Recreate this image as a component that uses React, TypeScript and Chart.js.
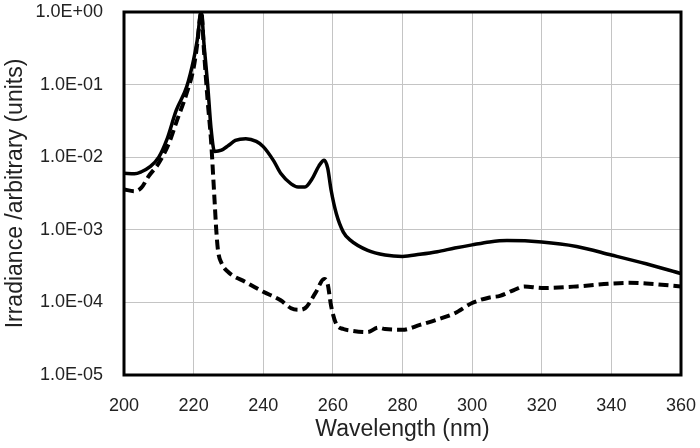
import React, { useEffect, useRef } from "react";
import { Chart, registerables } from "chart.js";

Chart.register(...registerables);

const wavelengthsSolid = [200, 203, 205, 207.5, 210, 212.3, 215, 218, 220, 221, 222.2, 223, 224, 225, 226, 228, 230, 232, 235, 238, 240, 243, 245, 248, 250, 252, 254, 256, 257.5, 258.5, 259.5, 261, 263, 265, 270, 275, 280, 285, 290, 295, 300, 305, 310, 320, 330, 340, 350, 360];
const irradianceSolid = [6.0e-3, 5.9e-3, 6.3e-3, 7.4e-3, 1.0e-2, 1.74e-2, 4.4e-2, 9.3e-2, 0.22, 0.40, 1.0, 0.35, 0.105, 0.025, 1.2e-2, 1.25e-2, 1.45e-2, 1.7e-2, 1.8e-2, 1.65e-2, 1.4e-2, 8.9e-3, 6.0e-3, 4.3e-3, 3.9e-3, 3.9e-3, 5.0e-3, 7.6e-3, 9.1e-3, 7.1e-3, 3.5e-3, 1.66e-3, 9.3e-4, 7.2e-4, 5.2e-4, 4.5e-4, 4.3e-4, 4.6e-4, 5.0e-4, 5.6e-4, 6.2e-4, 6.8e-4, 7.1e-4, 6.8e-4, 5.9e-4, 4.5e-4, 3.4e-4, 2.5e-4];

const wavelengthsDashed = [200, 203, 205, 207, 210, 213, 215, 218, 220, 221, 222.2, 223, 224, 225, 226, 226.5, 227, 228, 230, 235, 240, 245, 248, 250, 252, 255, 257.5, 258.5, 259.5, 261, 263, 265, 270, 273, 275, 280, 285, 290, 295, 300, 305, 308, 312, 315, 320, 330, 340, 345, 350, 360];
const irradianceDashed = [3.6e-3, 3.4e-3, 3.8e-3, 5.4e-3, 8.3e-3, 1.6e-2, 3.0e-2, 7.6e-2, 0.17, 0.35, 1.0, 0.28, 6.2e-2, 1.7e-2, 2.6e-3, 1.0e-3, 5.2e-4, 3.5e-4, 2.6e-4, 1.9e-4, 1.4e-4, 1.07e-4, 8.3e-5, 7.9e-5, 8.3e-5, 1.35e-4, 2.1e-4, 1.8e-4, 8.9e-5, 5.0e-5, 4.3e-5, 4.1e-5, 3.9e-5, 4.5e-5, 4.3e-5, 4.2e-5, 4.9e-5, 5.8e-5, 7.1e-5, 9.8e-5, 1.17e-4, 1.23e-4, 1.48e-4, 1.66e-4, 1.58e-4, 1.66e-4, 1.82e-4, 1.86e-4, 1.82e-4, 1.66e-4];

const yTickValues = [1e-5, 1e-4, 1e-3, 1e-2, 1e-1, 1];
const xTickValues = [200, 220, 240, 260, 280, 300, 320, 340, 360];

const xTitle = "Wavelength (nm)";
const yTitle = "Irradiance /arbitrary (units)";

const FONT = "'Liberation Sans', Arial, Helvetica, sans-serif";
const TEXT = "#222222";

function fmtExp(v: number): string {
  const e = Math.round(Math.log10(v));
  return "1.0E" + (e < 0 ? "-" : "+") + String(Math.abs(e)).padStart(2, "0");
}

const boxPlugin = {
  id: "box",
  afterDraw(chart: any) {
    const { ctx, chartArea } = chart;
    ctx.save();
    ctx.strokeStyle = "#000";
    ctx.lineWidth = 3;
    ctx.strokeRect(chartArea.left, chartArea.top, chartArea.right - chartArea.left, chartArea.bottom - chartArea.top);
    ctx.restore();
  },
};

export default function App() {
  const ref = useRef<HTMLCanvasElement | null>(null);
  useEffect(() => {
    document.body.style.margin = "0";
    const canvas = ref.current;
    if (!canvas) return;
    const chart = new Chart(canvas, {
      type: "line",
      data: {
        datasets: [
          {
            label: "solid",
            data: wavelengthsSolid.map((x, i) => ({ x, y: irradianceSolid[i] })),
            borderColor: "#000",
            borderWidth: 3.5,
            pointRadius: 0,
            cubicInterpolationMode: "monotone",
            fill: false,
          },
          {
            label: "dashed",
            data: wavelengthsDashed.map((x, i) => ({ x, y: irradianceDashed[i] })),
            borderColor: "#000",
            borderWidth: 4,
            borderDash: [10, 5],
            pointRadius: 0,
            cubicInterpolationMode: "monotone",
            fill: false,
          },
        ],
      },
      options: {
        animation: false,
        responsive: false,
        maintainAspectRatio: false,
        layout: { padding: { top: 12, right: 19, left: 0, bottom: 0 } },
        plugins: { legend: { display: false }, tooltip: { enabled: false } },
        scales: {
          x: {
            type: "linear",
            min: 200,
            max: 360,
            afterBuildTicks: (s: any) => {
              s.ticks = xTickValues.map((v) => ({ value: v }));
            },
            afterFit: (s: any) => {
              s.height = 73;
              s.paddingLeft = 0;
              s.paddingRight = 0;
            },
            grid: { color: "#c4c4c4", lineWidth: 1, drawTicks: false },
            border: { display: false },
            ticks: {
              padding: 20,
              color: TEXT,
              font: { family: FONT, size: 18 },
              maxRotation: 0,
              callback: (v: any) => String(v),
            },
            title: {
              display: true,
              text: xTitle,
              color: TEXT,
              font: { family: FONT, size: 23 },
              padding: { top: 0, bottom: 5 },
            },
          },
          y: {
            type: "logarithmic",
            min: 1e-5,
            max: 1,
            afterBuildTicks: (s: any) => {
              s.ticks = yTickValues.map((v) => ({ value: v }));
            },
            afterFit: (s: any) => {
              s.width = 124;
              s.paddingTop = 0;
              s.paddingBottom = 0;
            },
            grid: { color: "#c4c4c4", lineWidth: 1, drawTicks: false },
            border: { display: false },
            ticks: {
              padding: 21,
              color: TEXT,
              font: { family: FONT, size: 18 },
              callback: (v: any) => fmtExp(Number(v)),
            },
            title: {
              display: true,
              text: yTitle,
              color: TEXT,
              font: { family: FONT, size: 23 },
              padding: { top: 2, bottom: 0 },
            },
          },
        },
      } as any,
      plugins: [boxPlugin],
    });
    return () => chart.destroy();
  }, []);
  return (
    <div style={{ width: 700, height: 448, background: "#fff" }}>
      <canvas ref={ref} width={700} height={448} style={{ width: 700, height: 448, display: "block" }} />
    </div>
  );
}
